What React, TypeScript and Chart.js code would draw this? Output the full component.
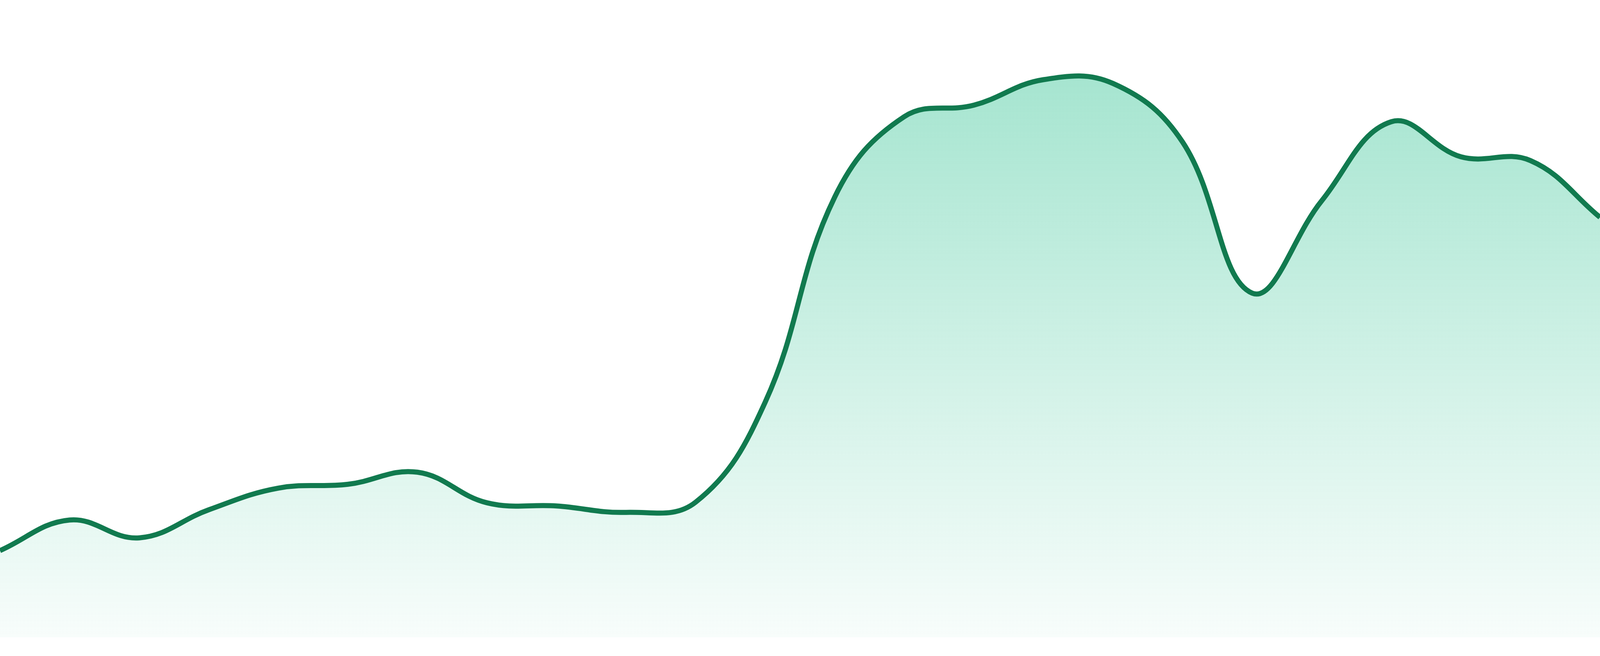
import { useEffect, useRef } from 'react';
import { Chart, registerables } from 'chart.js';

Chart.register(...registerables);

// 24 evenly spaced samples, left edge to right edge
const labels = [
  'P1', 'P2', 'P3', 'P4', 'P5', 'P6', 'P7', 'P8', 'P9', 'P10', 'P11', 'P12',
  'P13', 'P14', 'P15', 'P16', 'P17', 'P18', 'P19', 'P20', 'P21', 'P22', 'P23', 'P24',
];

const values = [
  13.6, 18.4, 15.6, 20.0, 23.4, 24.0, 25.9, 21.1, 20.6, 19.6, 21.2, 36.9,
  69.1, 81.7, 83.5, 87.5, 86.9, 77.7, 54.0, 68.5, 80.9, 75.4, 74.8, 65.9,
];

const LINE = '#117a4f';

export default function App() {
  const canvasRef = useRef<HTMLCanvasElement>(null);

  useEffect(() => {
    const canvas = canvasRef.current;
    if (!canvas) return;
    document.body.style.margin = '0';

    const chart = new Chart(canvas, {
      type: 'line',
      data: {
        labels,
        datasets: [
          {
            data: values,
            borderColor: LINE,
            borderWidth: 13,
            tension: 0.4,
            pointRadius: 0,
            fill: 'start',
            backgroundColor: (ctx) => {
              const area = ctx.chart.chartArea;
              if (!area) return 'rgba(16,185,129,0.2)';
              const g = ctx.chart.ctx.createLinearGradient(0, area.top, 0, area.bottom);
              g.addColorStop(0, 'rgba(16,185,129,0.42)');
              g.addColorStop(1, 'rgba(16,185,129,0.03)');
              return g;
            },
          },
        ],
      },
      options: {
        animation: false,
        responsive: true,
        maintainAspectRatio: false,
        layout: { padding: { top: 0, left: 0, right: 0, bottom: 48 } },
        plugins: { legend: { display: false }, tooltip: { enabled: false } },
        scales: {
          x: { display: false },
          y: { display: false, min: 0, max: 100 },
        },
      },
    });
    return () => chart.destroy();
  }, []);

  return (
    <div style={{ position: 'fixed', inset: 0, background: '#fff' }}>
      <canvas ref={canvasRef} />
    </div>
  );
}
